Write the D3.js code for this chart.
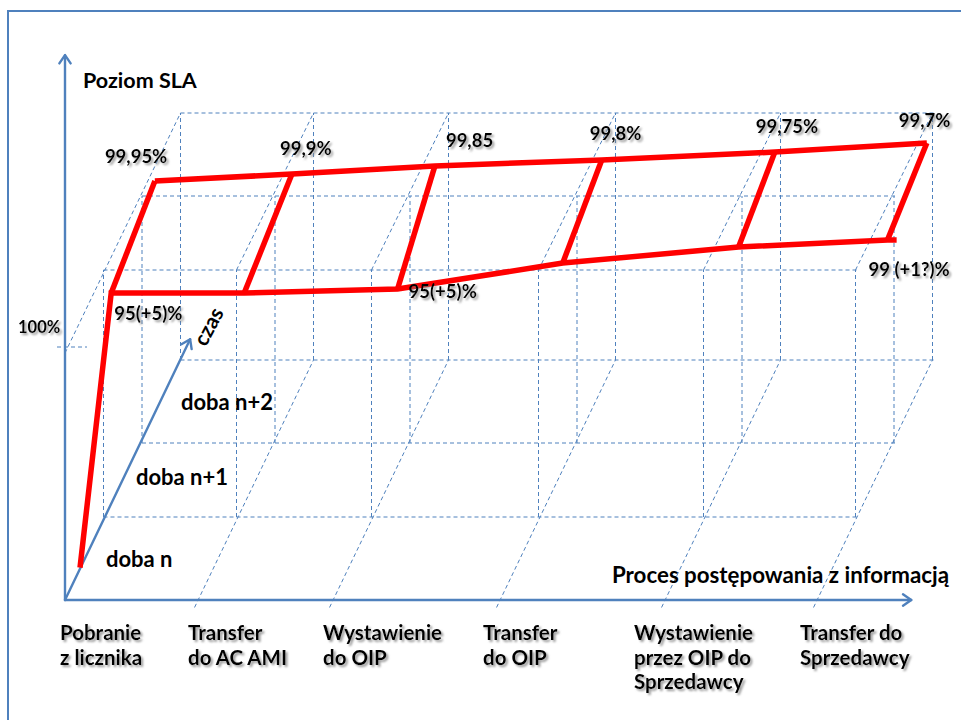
<!DOCTYPE html>
<html><head><meta charset="utf-8">
<script src="https://cdn.jsdelivr.net/npm/d3@7"></script>
<style>body{margin:0;background:#fff}svg{display:block}</style>
</head><body><svg id="c" width="961" height="720"></svg>
<script>
// ---------------- data ----------------
const steps = [["Pobranie","z licznika"],["Transfer","do AC AMI"],["Wystawienie","do OIP"],["Transfer","do OIP"],["Wystawienie","przez OIP do","Sprzedawcy"],["Transfer do","Sprzedawcy"]];
const days = ["doba n","doba n+1","doba n+2"];
const upperLabels = ["99,95%","99,9%","99,85","99,8%","99,75%","99,7%"];
const lowerLabels = ["95(+5)%", null, "95(+5)%", null, null, "99 (+1?)%"];
// red schematic: process position, level (0-100 = full box height)
const lowerPos   = [0, 1.0, 2.11, 3.10, 4.18, 5.16];
const lowerLevel = [84.7, 84.7, 86.3, 96.8, 103.3, 106.2];
const upperPos   = [0.01, 1.04, 2.08, 3.08, 4.14, 5.14];
const upperLevel = [96.0, 98.8, 102.1, 104.5, 107.7, 111.4];
const lowerTail = {pos: 5.22, level: 106.2};
const startPoint = {pos: 0, depth: 0.39, level: 0};
const lowerDepth = 1.2, upperDepth = 2.3;
const depthLevels = [1, 2, 3];
const yTick = {label: "100%", level: 100};
const yTitle = "Poziom SLA", xTitle = "Proces postępowania z informacją", zTitle = "czas";

// ---------------- layout ----------------
const W = 961, H = 720;
const svg = d3.select("#c");
const blue = "#4f81bd";
const font = "Lato, 'Open Sans', sans-serif";

const xs  = d3.scaleLinear().domain([0,1,2,3,4,5]).range([65,198,333,500,665,817]);
const dzx = d3.scaleLinear().domain([0,3]).range([0,115.5]);
const dzy = d3.scaleLinear().domain([0,1,2,3]).range([0,83,157,240]);
const hs  = d3.scaleLinear().domain([0,100]).range([0,247]);
const baseY = 600;
const proj = (p, d, l) => [xs(p) + dzx(d), baseY - dzy(d) - hs(l)];

const defs = svg.append("defs");
const f = defs.append("filter").attr("id","sh").attr("x","-20%").attr("y","-30%").attr("width","150%").attr("height","170%");
f.append("feDropShadow").attr("dx",2).attr("dy",2).attr("stdDeviation",1)
 .attr("flood-color","#808080").attr("flood-opacity",0.8);

// frame
svg.append("path").attr("d", `M8,${H} L8,11 L${W},11`).attr("fill","none")
  .attr("stroke", blue).attr("stroke-width",2);

// ---------------- dashed grid ----------------
const g = svg.append("g").attr("fill","none").attr("stroke", blue)
  .attr("stroke-width",1).attr("stroke-dasharray","4,3");
const line = d3.line();
const cols = d3.range(steps.length);
function seg(a, b){ g.append("path").attr("d", line([a,b])); }
// floor slants
cols.slice(1).forEach(i => seg(proj(i,-0.09,0), proj(i,3,0)));
// ceiling slants
cols.forEach(i => seg(proj(i, i===0 ? 0 : 1, 100), proj(i,3,100)));
// floor & ceiling horizontals
depthLevels.forEach(d => {
  const a = proj(0,d,0), b = proj(5,d,0);
  seg(a, [b[0]+3, b[1]]);
  const c = proj(0,d,100), e = proj(5,d,100);
  seg(c, [e[0]+1, e[1]]);
});
// verticals
cols.forEach(i => depthLevels.forEach(d => seg(proj(i,d,0), proj(i,d,100))));
// 100% tick
{ const p = proj(0,0,yTick.level); seg([p[0]-8,p[1]-6],[p[0]+22,p[1]-6]); }

// ---------------- axes ----------------
const ax = svg.append("g").attr("fill","none").attr("stroke", blue)
  .attr("stroke-width",2.4).attr("stroke-linecap","round").attr("stroke-linejoin","round");
function arrow(a, b){
  ax.append("path").attr("d", line([a,b]));
  const ang = Math.atan2(b[1]-a[1], b[0]-a[0]), L = 10, s = 0.6;
  const w1 = [b[0]-L*Math.cos(ang-s), b[1]-L*Math.sin(ang-s)];
  const w2 = [b[0]-L*Math.cos(ang+s), b[1]-L*Math.sin(ang+s)];
  ax.append("path").attr("d", line([w1,b,w2]));
}
arrow(proj(0,0,0), proj(0,0,220.6));
arrow(proj(0,0,0), proj(5.62,0,0));
arrow(proj(0,0,0), proj(0,3.25,0));

// ---------------- red schematic ----------------
const red = svg.append("g").attr("fill","none").attr("stroke","#ff0000")
  .attr("stroke-width",5.5).attr("stroke-linejoin","miter").attr("stroke-linecap","butt");
const lowerPts = lowerPos.map((p,i) => proj(p, lowerDepth, lowerLevel[i]));
const upperPts = upperPos.map((p,i) => proj(p, upperDepth, upperLevel[i]));
red.append("path").attr("d", line([proj(startPoint.pos,startPoint.depth,startPoint.level), ...lowerPts, proj(lowerTail.pos, lowerDepth, lowerTail.level)]));
red.append("path").attr("d", line(upperPts));
lowerPts.forEach((p,i) => red.append("path").attr("d", line([p, upperPts[i]])));

// ---------------- texts ----------------
const T = svg.append("g").attr("font-family", font).attr("font-weight",700).attr("fill","#000");
const upperOff = [[-50,-18],[-12,-19],[11,-19],[-12,-20],[-19,-19],[-28,-16]];
upperLabels.forEach((t,i) => T.append("text").attr("x", upperPts[i][0]+upperOff[i][0])
  .attr("y", upperPts[i][1]+upperOff[i][1]).attr("font-size",18.5).attr("filter","url(#sh)").text(t));
const lowerOff = [[3,27],null,[11,9],null,null,[-19,36]];
lowerLabels.forEach((t,i) => { if(!t) return;
  T.append("text").attr("x", lowerPts[i][0]+lowerOff[i][0]).attr("y", lowerPts[i][1]+lowerOff[i][1])
   .attr("font-size",18.5).attr("filter","url(#sh)").text(t); });

// y tick label
{ const p = proj(0,0,yTick.level);
  T.append("text").attr("x", p[0]-47).attr("y", p[1]-20).attr("font-size",16.5)
   .attr("filter","url(#sh)").text(yTick.label); }

// step labels
const labDx = [-5,-10,-10,-17,-31,-17];
steps.forEach((lines,i) => {
  const t = T.append("text").attr("x", xs(i)+labDx[i]).attr("y", baseY+40)
    .attr("font-size",20.5).attr("filter","url(#sh)");
  lines.forEach((s,k) => t.append("tspan").attr("x", xs(i)+labDx[i]).attr("dy", k ? 24.5 : 0).text(s));
});

// day labels
const dayXY = [[106,567],[136,485],[181,410]];
days.forEach((d,i) => T.append("text").attr("x", dayXY[i][0]).attr("y", dayXY[i][1])
  .attr("font-size",22).text(d));

// titles
T.append("text").attr("x",83).attr("y",88).attr("font-size",21.5).text(yTitle);
T.append("text").attr("x",612).attr("y",583).attr("font-size",22.3).text(xTitle);
T.append("text").attr("transform","translate(215,330) rotate(-62)").attr("text-anchor","middle")
  .attr("font-size",21).text(zTitle);
</script></body></html>
